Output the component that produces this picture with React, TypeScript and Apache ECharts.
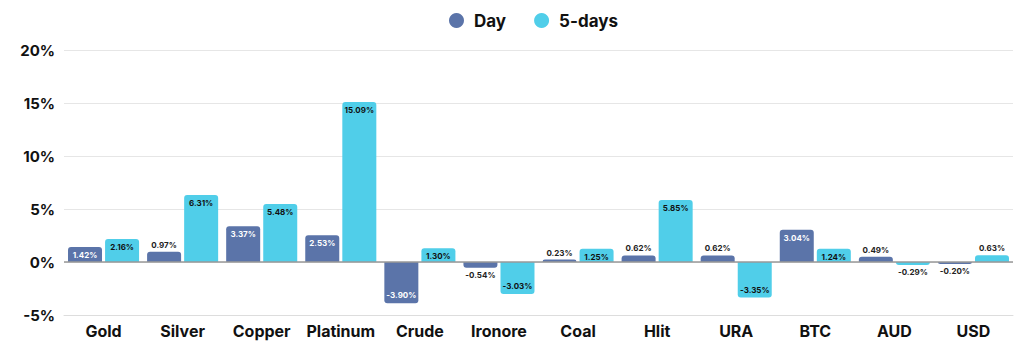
import React, { useEffect, useRef } from "react";
import * as echarts from "echarts";

const categories = ["Gold", "Silver", "Copper", "Platinum", "Crude", "Ironore", "Coal", "Hlit", "URA", "BTC", "AUD", "USD"];
const dayValues = [1.42, 0.97, 3.37, 2.53, -3.9, -0.54, 0.23, 0.62, 0.62, 3.04, 0.49, -0.2];
const fiveDayValues = [2.16, 6.31, 5.48, 15.09, 1.3, -3.03, 1.25, 5.85, -3.35, 1.24, -0.29, 0.63];
const yTicks = [-5, 0, 5, 10, 15, 20];

const DAY_COLOR = "#5B74A9";
const FIVE_COLOR = "#50CEE9";
const FONT = "Inter, sans-serif";

function makeData(values: number[], insideColor: string) {
  return values.map((v) => {
    const big = Math.abs(v) >= 1.0;
    let position: string;
    if (v >= 0) position = big ? "insideTop" : "top";
    else position = big ? "insideBottom" : "bottom";
    return {
      value: v,
      itemStyle: { borderRadius: v >= 0 ? [3, 3, 0, 0] : [0, 0, 3, 3] },
      label: {
        position,
        color: big ? insideColor : "#222",
        distance: big ? 4 : 3,
      },
    };
  });
}

export default function App() {
  const ref = useRef<HTMLDivElement>(null);
  useEffect(() => {
    if (!ref.current) return;
    const chart = echarts.init(ref.current, undefined, { renderer: "svg" });
    const labelCommon = {
      show: true,
      fontSize: 8,
      fontWeight: "bold" as const,
      fontFamily: FONT,
      formatter: (p: any) => Number(p.value).toFixed(2) + "%",
    };
    chart.setOption({
      animation: false,
      backgroundColor: "#ffffff",
      textStyle: { fontFamily: FONT },
      legend: {
        top: 7,
        left: 444,
        icon: "circle",
        itemWidth: 15,
        itemHeight: 15,
        itemGap: 28,
        textStyle: { fontSize: 17, fontWeight: "bold", color: "#111", fontFamily: FONT, padding: [0, 0, 0, 5] },
        data: ["Day", "5-days"],
      },
      grid: { left: 64, right: 11, top: 50, bottom: 39, containLabel: false },
      xAxis: {
        type: "category",
        data: categories,
        axisLine: { onZero: false, lineStyle: { color: "#dddddd", width: 1 } },
        axisTick: { show: false },
        axisLabel: { fontSize: 16, fontWeight: "bold", color: "#111", margin: 8, fontFamily: FONT, interval: 0 },
      },
      yAxis: {
        type: "value",
        min: yTicks[0],
        max: yTicks[yTicks.length - 1],
        interval: 5,
        axisLine: { show: false },
        axisTick: { show: false },
        splitLine: { lineStyle: { color: "#e6e6e6", width: 1 } },
        axisLabel: {
          fontSize: 15,
          fontWeight: "bold",
          color: "#111",
          margin: 9,
          fontFamily: FONT,
          formatter: (v: number) => v + "%",
        },
      },
      series: [
        {
          name: "Day",
          type: "bar",
          barWidth: 34,
          barGap: "9%",
          itemStyle: { color: DAY_COLOR },
          label: labelCommon,
          data: makeData(dayValues, "#ffffff"),
          markLine: {
            silent: true,
            symbol: "none",
            label: { show: false },
            lineStyle: { color: "#999999", width: 1.5, type: "solid" },
            data: [{ yAxis: 0 }],
          },
        },
        {
          name: "5-days",
          type: "bar",
          barWidth: 34,
          barGap: "9%",
          itemStyle: { color: FIVE_COLOR },
          label: labelCommon,
          data: makeData(fiveDayValues, "#111111"),
        },
      ],
    });
    return () => chart.dispose();
  }, []);
  return <div ref={ref} style={{ width: 1024, height: 354, position: "absolute", left: 0, top: 0 }} />;
}
